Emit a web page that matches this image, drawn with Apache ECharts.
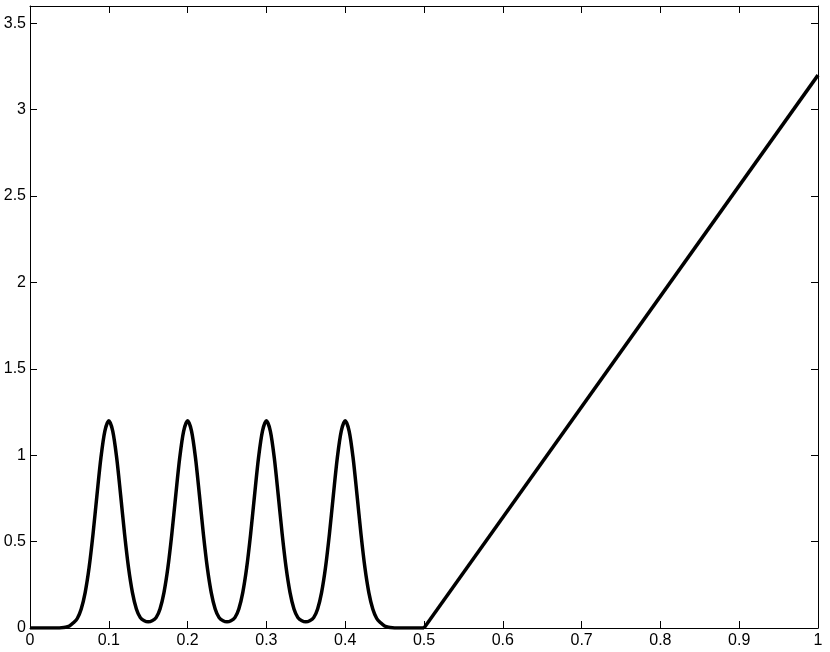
<!DOCTYPE html>
<html>
<head>
<meta charset="utf-8">
<script src="https://cdn.jsdelivr.net/npm/echarts@6/dist/echarts.min.js"></script>
<style>
  html, body { margin: 0; padding: 0; background: #fff; }
  #chart { width: 830px; height: 652px; }
</style>
</head>
<body>
<div id="chart"></div>
<script>
// bumps part (x, y)
const bumpX = [
  0, 0.03, 0.035, 0.04, 0.045, 0.05, 0.055, 0.06, 0.065, 0.07, 0.075, 0.08, 0.085, 0.09, 0.095,
  0.1, 0.105, 0.11, 0.115, 0.12, 0.125, 0.13, 0.135, 0.14, 0.145,
  0.15, 0.155, 0.16, 0.165, 0.17, 0.175, 0.18, 0.185, 0.19, 0.195,
  0.2, 0.205, 0.21, 0.215, 0.22, 0.225, 0.23, 0.235, 0.24, 0.245,
  0.25, 0.255, 0.26, 0.265, 0.27, 0.275, 0.28, 0.285, 0.29, 0.295,
  0.3, 0.305, 0.31, 0.315, 0.32, 0.325, 0.33, 0.335, 0.34, 0.345,
  0.35, 0.355, 0.36, 0.365, 0.37, 0.375, 0.38, 0.385, 0.39, 0.395,
  0.4, 0.405, 0.41, 0.415, 0.42, 0.425, 0.43, 0.435, 0.44, 0.445,
  0.45, 0.455, 0.46, 0.465, 0.5
];
const bumpY = [
  0, 0, 0, 0.001, 0.004, 0.012, 0.03, 0.055, 0.11, 0.205, 0.35, 0.545, 0.77, 0.985, 1.14,
  1.2, 1.14, 0.985, 0.77, 0.545, 0.35, 0.205, 0.11, 0.06, 0.042,
  0.036, 0.042, 0.06, 0.11, 0.205, 0.35, 0.545, 0.77, 0.985, 1.14,
  1.2, 1.14, 0.985, 0.77, 0.545, 0.35, 0.205, 0.11, 0.06, 0.042,
  0.036, 0.042, 0.06, 0.11, 0.205, 0.35, 0.545, 0.77, 0.985, 1.14,
  1.2, 1.14, 0.985, 0.77, 0.545, 0.35, 0.205, 0.11, 0.06, 0.042,
  0.036, 0.042, 0.06, 0.11, 0.205, 0.35, 0.545, 0.77, 0.985, 1.14,
  1.2, 1.14, 0.985, 0.77, 0.545, 0.35, 0.205, 0.11, 0.055, 0.03,
  0.012, 0.004, 0.001, 0, 0
];
// straight ramp
const rampX = [0.5, 1];
const rampY = [0, 3.2];

const chart = echarts.init(document.getElementById('chart'));

const font = { fontFamily: 'Liberation Sans', fontSize: 16, color: '#000' };
function line() {
  return { show: true, onZero: false, lineStyle: { color: '#000', width: 1 } };
}
function tick() {
  return { show: true, inside: true, length: 7, lineStyle: { color: '#000', width: 1 } };
}

const option = {
  animation: false,
  backgroundColor: '#fff',
  grid: { left: 30, right: 12, top: 6, bottom: 24, containLabel: false },
  xAxis: [
    {
      type: 'value', min: 0, max: 1, interval: 0.1, position: 'bottom',
      axisLine: line(), axisTick: tick(), splitLine: { show: false },
      axisLabel: Object.assign({ margin: 5 }, font)
    },
    {
      type: 'value', min: 0, max: 1, interval: 0.1, position: 'top',
      axisLine: line(), axisTick: tick(), splitLine: { show: false },
      axisLabel: { show: false }
    }
  ],
  yAxis: [
    {
      type: 'value', min: 0, max: 3.6, interval: 0.5, position: 'left',
      axisLine: line(), axisTick: tick(), splitLine: { show: false },
      axisLabel: Object.assign({ margin: 4, showMaxLabel: false }, font)
    },
    {
      type: 'value', min: 0, max: 3.6, interval: 0.5, position: 'right',
      axisLine: line(), axisTick: tick(), splitLine: { show: false },
      axisLabel: { show: false }
    }
  ],
  series: [
    {
      type: 'line', smooth: 0.3, showSymbol: false,
      data: bumpX.map((x, i) => [x, bumpY[i]]),
      lineStyle: { color: '#000', width: 3.5 }
    },
    {
      type: 'line', showSymbol: false,
      data: rampX.map((x, i) => [x, rampY[i]]),
      lineStyle: { color: '#000', width: 3.5 }
    }
  ]
};

chart.setOption(option);
</script>
</body>
</html>
